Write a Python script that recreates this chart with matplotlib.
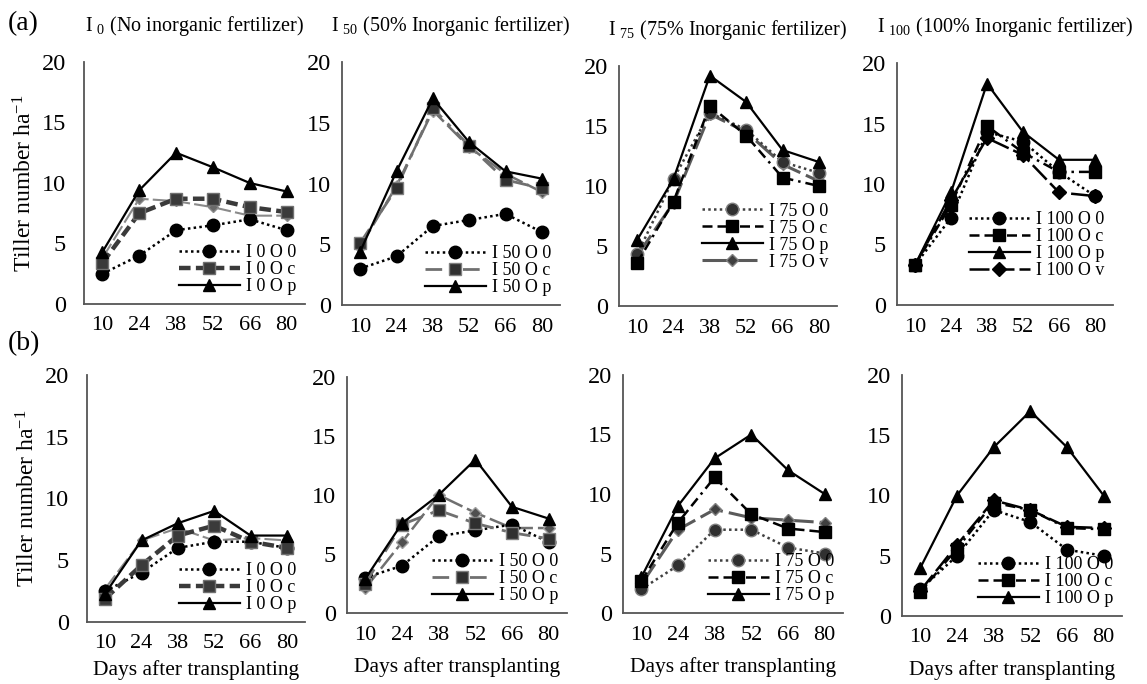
import numpy as np
import matplotlib
matplotlib.use("Agg")
import matplotlib.pyplot as plt

plt.rcParams['font.family'] = ['Liberation Serif', 'DejaVu Serif']
plt.rcParams['mathtext.fontset'] = 'custom'
plt.rcParams['mathtext.rm'] = 'Liberation Serif'
plt.rcParams['mathtext.it'] = 'Liberation Serif:italic'

days = ['10', '24', '38', '52', '66', '80']

# (a) top row
a_I0_O0 = [2.5, 4.0, 6.1, 6.5, 7.0, 6.1]
a_I0_Oc = [3.4, 7.5, 8.7, 8.7, 8.0, 7.6]
a_I0_Op = [4.3, 9.4, 12.5, 11.3, 10.0, 9.3]
a_I0_Ov = [3.8, 8.7, 8.5, 8.0, 7.3, 7.3]

a_I50_O0 = [3.0, 4.0, 6.5, 7.0, 7.5, 6.0]
a_I50_Oc = [5.1, 9.6, 16.2, 13.1, 10.3, 9.6]
a_I50_Op = [4.4, 11.0, 17.0, 13.4, 11.0, 10.4]
a_I50_Ov = [4.8, 9.8, 16.0, 13.0, 10.8, 9.3]

a_I75_O0 = [4.3, 10.6, 16.1, 14.7, 12.0, 11.1]
a_I75_Oc = [3.6, 8.7, 16.7, 14.2, 10.7, 10.0]
a_I75_Op = [5.5, 10.6, 19.2, 17.0, 13.0, 12.0]
a_I75_Ov = [4.2, 8.6, 16.0, 14.5, 11.8, 10.4]

a_I100_O0 = [3.3, 7.2, 14.3, 13.5, 11.0, 9.0]
a_I100_Oc = [3.3, 8.3, 14.8, 12.6, 11.0, 11.0]
a_I100_Op = [3.3, 9.3, 18.3, 14.3, 12.0, 12.0]
a_I100_Ov = [3.3, 8.7, 13.8, 12.4, 9.3, 9.0]

# (b) bottom row
b_I0_O0 = [2.5, 4.0, 6.0, 6.5, 6.5, 6.0]
b_I0_Oc = [1.9, 4.6, 7.0, 7.8, 6.5, 6.0]
b_I0_Op = [2.3, 6.6, 8.0, 9.0, 7.0, 7.0]
b_I0_Ov = [2.7, 6.6, 7.6, 6.6, 6.8, 6.6]

b_I50_O0 = [3.0, 4.0, 6.5, 7.0, 7.5, 6.0]
b_I50_Oc = [2.5, 7.5, 8.7, 7.6, 6.8, 6.3]
b_I50_Op = [2.9, 7.6, 10.0, 13.0, 9.0, 8.0]
b_I50_Ov = [2.1, 6.0, 10.0, 8.5, 7.2, 7.2]

b_I75_O0 = [2.0, 4.0, 7.0, 7.0, 5.5, 5.0]
b_I75_Oc = [2.7, 7.6, 11.4, 8.3, 7.1, 6.8]
b_I75_Op = [3.0, 9.0, 13.0, 15.0, 12.0, 10.0]
b_I75_Ov = [2.4, 7.0, 8.7, 8.0, 7.8, 7.6]

b_I100_O0 = [2.2, 5.0, 8.8, 7.8, 5.5, 5.0]
b_I100_Oc = [2.0, 5.6, 9.4, 8.8, 7.3, 7.2]
b_I100_Op = [4.0, 10.0, 14.0, 17.0, 14.0, 10.0]
b_I100_Ov = [2.1, 5.9, 9.6, 8.8, 7.4, 7.3]

titles = ['I $_{0}$ (No inorganic fertilizer)', 'I $_{50}$ (50% Inorganic fertilizer)',
          'I $_{75}$ (75% Inorganic fertilizer)', 'I $_{100}$ (100% Inorganic fertilizer)']
levels = ['0', '50', '75', '100']

W, H = 1147, 684
fig = plt.figure(figsize=(W / 100, H / 100), dpi=100)


def box(l, r, top, bot):
    return [l / W, 1 - bot / H, (r - l) / W, (bot - top) / H]


# pixel boxes (left, right, top, bottom)
boxes_a = [(84, 305, 62, 304), (342, 560, 62, 305), (619, 837, 66, 306), (897, 1113, 63, 305)]
boxes_b = [(87, 305, 375, 622), (347, 567, 377, 613), (623, 843, 375, 613), (902, 1122, 375, 616)]
# legend lift above the x axis (axes fraction)
leg_y_a = [0.0, 0.0, 0.11, 0.07]
leg_y_b = [0.0, 0.0, 0.0, 0.0]


# line styles per column
def styles(col):
    s0 = dict(color='black', ls=(0, (1, 1.3)), lw=1.8, marker='o', ms=9, mfc='black', mec='black')
    sp = dict(color='black', ls='-', lw=1.6, marker='^', ms=9, mfc='black', mec='black')
    if col == 0:
        sc = dict(color='#3a3a3a', ls=(0, (2.6, 1.2)), lw=3.2, marker='s', ms=8, mfc='#3a3a3a', mec='#707070')
        sv = dict(color='#8a8a8a', ls=(0, (8, 2)), lw=1.5, marker='D', ms=5, mfc='#6a6a6a', mec='#8a8a8a')
    elif col == 1:
        sc = dict(color='#707070', ls=(0, (6, 3, 1.5, 3)), lw=2.0, marker='s', ms=9, mfc='#303030', mec='#808080')
        sv = dict(color='#707070', ls=(0, (8, 2)), lw=1.8, marker='D', ms=6.5, mfc='#505050', mec='#a0a0a0')
    elif col == 2:
        s0 = dict(color='#404040', ls=(0, (1, 1.3)), lw=1.8, marker='o', ms=9, mfc='#303030', mec='#808080')
        sc = dict(color='black', ls=(0, (4, 2, 4, 2, 1, 2)), lw=1.8, marker='s', ms=9, mfc='black', mec='black')
        sv = dict(color='#5a5a5a', ls=(0, (8, 2)), lw=2.2, marker='D', ms=6.5, mfc='#404040', mec='#808080')
    else:
        sc = dict(color='black', ls=(0, (4, 2, 4, 2, 1, 2)), lw=1.8, marker='s', ms=9, mfc='black', mec='black')
        sv = dict(color='black', ls=(0, (8, 2)), lw=1.8, marker='D', ms=7.5, mfc='black', mec='black')
    return s0, sc, sp, sv


top_data = [(a_I0_O0, a_I0_Oc, a_I0_Op, a_I0_Ov), (a_I50_O0, a_I50_Oc, a_I50_Op, a_I50_Ov),
            (a_I75_O0, a_I75_Oc, a_I75_Op, a_I75_Ov), (a_I100_O0, a_I100_Oc, a_I100_Op, a_I100_Ov)]
bot_data = [(b_I0_O0, b_I0_Oc, b_I0_Op, b_I0_Ov), (b_I50_O0, b_I50_Oc, b_I50_Op, b_I50_Ov),
            (b_I75_O0, b_I75_Oc, b_I75_Op, b_I75_Ov), (b_I100_O0, b_I100_Oc, b_I100_Op, b_I100_Ov)]

x = np.arange(len(days))

for row, (boxes, data, leg_y) in enumerate([(boxes_a, top_data, leg_y_a), (boxes_b, bot_data, leg_y_b)]):
    for col in range(4):
        ax = fig.add_axes(box(*boxes[col]))
        s0, sc, sp, sv = styles(col)
        o0, oc, op, ov = data[col]
        lv = levels[col]
        # v series is in the legend only in the top row of the last two panels
        show_v = row == 0 and col >= 2
        ax.plot(x, ov, label=f'I {lv} O v' if show_v else '_nolegend_', zorder=2, **sv)
        ax.plot(x, o0, label=f'I {lv} O 0', zorder=3, **s0)
        ax.plot(x, oc, label=f'I {lv} O c', zorder=3, **sc)
        ax.plot(x, op, label=f'I {lv} O p', zorder=4, **sp)

        ax.set_xlim(-0.5, 5.5)
        ax.set_ylim(0, 20)
        ax.set_yticks([0, 5, 10, 15, 20])
        ax.set_xticks(x)
        ax.set_xticklabels(days)
        ax.tick_params(axis='x', length=0, labelsize=16, pad=9)
        ax.tick_params(axis='y', length=0, labelsize=17.5, pad=13 if col == 0 else 8)
        for sp_ in ['top', 'right']:
            ax.spines[sp_].set_visible(False)
        for sp_ in ['left', 'bottom']:
            ax.spines[sp_].set_color('#555555')
            ax.spines[sp_].set_linewidth(1.3)

        handles, labels = ax.get_legend_handles_labels()
        order = [l for l in [f'I {lv} O 0', f'I {lv} O c', f'I {lv} O p', f'I {lv} O v'] if l in labels]
        hmap = dict(zip(labels, handles))
        ax.legend([hmap[l] for l in order], order, loc='lower right', frameon=False,
                  fontsize=13, handlelength=3.4, handletextpad=0.3, labelspacing=0.0,
                  borderaxespad=0.1, bbox_to_anchor=(1.0, leg_y[col]))

        if row == 0:
            ax.set_title(titles[col], fontsize=14.5, pad=22)
        else:
            ax.set_xlabel('Days after transplanting', fontsize=15.5,
                          labelpad=5 if col == 0 else 9)
        if col == 0:
            ax.set_ylabel('Tiller number ha$^{-1}$', fontsize=17, labelpad=4)

fig.text(8 / W, 1 - 24 / H, '(a)', fontsize=20, va='center', ha='left')
fig.text(8 / W, 1 - 344 / H, '(b)', fontsize=20, va='center', ha='left')

fig.savefig('out.png', dpi=100)
